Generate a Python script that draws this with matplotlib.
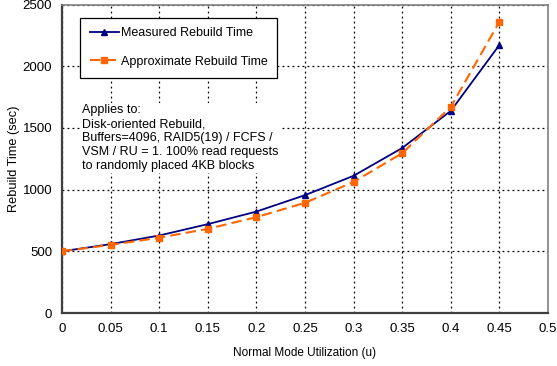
import matplotlib
matplotlib.use("Agg")
import matplotlib.pyplot as plt

plt.rcParams['font.family'] = ['Liberation Sans', 'DejaVu Sans']

utilization = [0, 0.05, 0.1, 0.15, 0.2, 0.25, 0.3, 0.35, 0.4, 0.45]
measured = [500, 558, 628, 720, 822, 955, 1112, 1337, 1638, 2172]
approximate = [500, 552, 610, 682, 777, 893, 1062, 1295, 1670, 2360]
x_ticks = [0, 0.05, 0.1, 0.15, 0.2, 0.25, 0.3, 0.35, 0.4, 0.45, 0.5]
x_tick_labels = ["0", "0.05", "0.1", "0.15", "0.2", "0.25", "0.3", "0.35", "0.4", "0.45", "0.5"]
y_ticks = [0, 500, 1000, 1500, 2000, 2500]

fig = plt.figure(figsize=(5.57, 3.66), dpi=100)
ax = fig.add_axes([62/557, 53/366, (548-62)/557, (313-4.5)/366])

ax.plot(utilization, measured, color='#000080', lw=1.3, marker='^', ms=5,
        label='Measured Rebuild Time', zorder=3)
ax.plot(utilization, approximate, color='#FF6600', lw=1.5, ls=(0, (5, 2.5)), marker='s', ms=5,
        label='Approximate Rebuild Time', zorder=4)

ax.set_xlim(0, 0.5)
ax.set_ylim(0, 2500)
ax.set_xticks(x_ticks)
ax.set_xticklabels(x_tick_labels)
ax.set_yticks(y_ticks)
ax.tick_params(length=0, labelsize=9.5)
ax.tick_params(axis='x', pad=7.5)
ax.tick_params(axis='y', pad=7)
ax.grid(True, color='black', ls=(0, (1.5, 2.5)), lw=0.9)
ax.set_axisbelow(True)

for s in ['left', 'bottom']:
    ax.spines[s].set_color('#404040')
    ax.spines[s].set_linewidth(1.6)
for s in ['top', 'right']:
    ax.spines[s].set_color('#808080')
    ax.spines[s].set_linewidth(1.2)

ax.set_xlabel('Normal Mode Utilization (u)', fontsize=8.5, labelpad=8)
ax.set_ylabel('Rebuild Time (sec)', fontsize=9.2, labelpad=2)

leg = ax.legend(loc='upper left', bbox_to_anchor=(18/486, 1 - 13/308.5), fontsize=9,
                frameon=True, fancybox=False, edgecolor='black', framealpha=1,
                handlelength=2.3, labelspacing=1.3, borderpad=0.8, handletextpad=0.15,
                borderaxespad=0, markerscale=0.9)
leg.get_frame().set_linewidth(0.9)

note = ("Applies to:\nDisk-oriented Rebuild,\nBuffers=4096, RAID5(19) / FCFS /\n"
        "VSM / RU = 1. 100% read requests\nto randomly placed 4KB blocks")
ax.text(20/486, 1 - 100/308.5, note, transform=ax.transAxes, fontsize=9,
        va='top', ha='left', linespacing=1.2,
        bbox=dict(facecolor='white', edgecolor='none', pad=1))

fig.savefig('out.png', dpi=100)
